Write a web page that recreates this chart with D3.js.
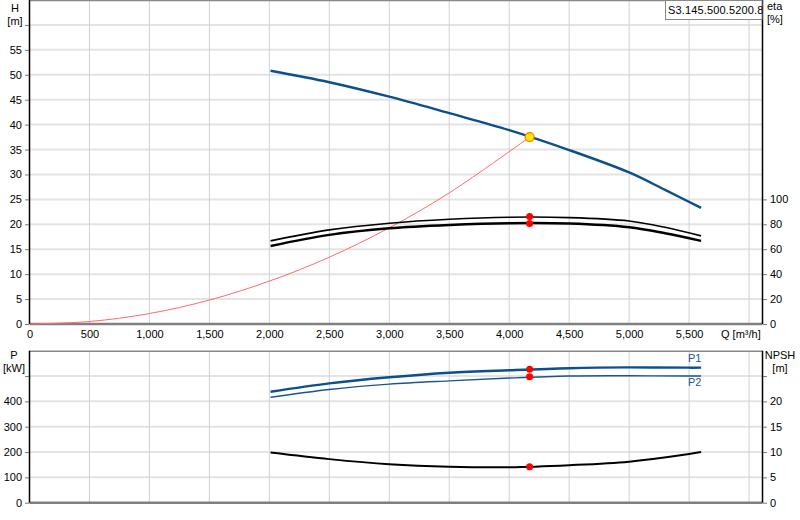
<!DOCTYPE html>
<html>
<head>
<meta charset="utf-8">
<script src="https://cdn.jsdelivr.net/npm/d3@7"></script>
<style>
	body { margin: 0; background: #fff; }
	text { font-family: "Liberation Sans", Arial, sans-serif; font-size: 11px; fill: #000; }
	.tick line { stroke: #777; }
	.domain { display: none; }
</style>
</head>
<body>
<div id="chart"></div>
<script>
// ---- data ----
const qTicks = [0, 500, 1000, 1500, 2000, 2500, 3000, 3500, 4000, 4500, 5000, 5500];
const qGrid = [500, 1000, 1500, 2000, 2500, 3000, 3500, 4000, 4500, 5000, 5500, 6000];
const hTicks = [0, 5, 10, 15, 20, 25, 30, 35, 40, 45, 50, 55, 60];
const etaTicks = [0, 20, 40, 60, 80, 100];
const pTicks = [0, 100, 200, 300, 400, 500];
const npshTicks = [0, 5, 10, 15, 20, 25];

const qCurve = [2010, 2500, 3000, 3500, 4000, 4500, 5000, 5300, 5600];
const headVals = [50.8, 48.5, 45.6, 42.3, 38.9, 34.9, 30.4, 26.9, 23.3];
const etaPump = [66.7, 75.5, 80.9, 84.1, 85.7, 85.4, 82.7, 77.6, 70.7];
const etaTotal = [62.6, 71.5, 76.8, 79.5, 80.9, 80.6, 77.6, 72.8, 66.7];

const qSystem = [0, 500, 1000, 1500, 2000, 2500, 3000, 3500, 4170];
const hSystem = [0, 0.5, 2.1, 4.8, 8.6, 13.4, 19.3, 26.3, 37.5];

const qPower = [2010, 2500, 3000, 3500, 4000, 4500, 5000, 5500, 5600];
const p1Vals = [438, 471, 495, 513, 523, 531, 534, 533, 533];
const p2Vals = [416, 447, 468, 481, 492, 500, 501, 500, 500];
const npshVals = [9.9, 8.6, 7.6, 7.1, 7.0, 7.4, 8.1, 9.6, 10.0];

const dutyQ = 4170;
const dutyH = 37.5;
const dutyEta = [86.2, 80.6];
const dutyP = [527, 497];
const dutyNpsh = 7.1;

const curveName = "S3.145.500.5200.8.";

// ---- layout ----
const W = 800, H = 520;
const left = 29.5, right = 762.5;
const top1 = 0, bot1 = 324;
const top2 = 350.7, bot2 = 502.7;

const svg = d3.select("#chart").append("svg")
	.attr("width", W)
	.attr("height", H);

const x = d3.scaleLinear().domain([0, 6112]).range([left, right]);
const yH = d3.scaleLinear().domain([0, 65]).range([bot1, top1]);
const yEta = d3.scaleLinear().domain([0, 260]).range([bot1, top1]);
const yP = d3.scaleLinear().domain([0, 600]).range([bot2, top2]);
const yN = d3.scaleLinear().domain([0, 30]).range([bot2, top2]);

function panel(yScale, ticks, yTop, yBot) {
	const g = svg.append("g");
	// horizontal grid
	g.selectAll(".hg")
		.data(ticks.filter((d) => d > 0))
		.enter()
		.append("line")
		.attr("x1", left).attr("x2", right)
		.attr("y1", (d) => yScale(d)).attr("y2", (d) => yScale(d))
		.style("stroke", "#e4e4e4")
		.style("stroke-width", 2);
	// vertical grid
	g.selectAll(".vg")
		.data(qGrid)
		.enter()
		.append("line")
		.attr("x1", (d) => x(d)).attr("x2", (d) => x(d))
		.attr("y1", yTop).attr("y2", yBot)
		.style("stroke", "#d2d2d2")
		.style("stroke-width", 1);
	// frame
	g.append("line").attr("x1", left).attr("x2", right).attr("y1", yTop + 0.5).attr("y2", yTop + 0.5)
		.style("stroke", "#888").style("stroke-width", 1.5);
	g.append("line").attr("x1", left).attr("x2", right).attr("y1", yBot).attr("y2", yBot)
		.style("stroke", "#808080").style("stroke-width", 2.5);
	g.append("line").attr("x1", left).attr("x2", left).attr("y1", yTop).attr("y2", yBot)
		.style("stroke", "#000").style("stroke-width", 1.5);
	g.append("line").attr("x1", right).attr("x2", right).attr("y1", yTop).attr("y2", yBot)
		.style("stroke", "#000").style("stroke-width", 1.5);
}

function sideAxis(scale, ticks, side, hideTop) {
	const last = ticks[ticks.length - 1];
	const ax = (side === "left" ? d3.axisLeft(scale) : d3.axisRight(scale))
		.tickValues(ticks)
		.tickSize(4)
		.tickPadding(3)
		.tickFormat((d) => (hideTop && d === last ? "" : d));
	svg.append("g")
		.attr("transform", `translate(${side === "left" ? left - 0.5 : right + 0.5},0)`)
		.call(ax);
}

function unitLabel(xPos, yPos, lines, anchor) {
	lines.forEach((t, i) => {
		svg.append("text")
			.attr("x", xPos)
			.attr("y", yPos + i * 13)
			.attr("text-anchor", anchor)
			.text(t);
	});
}

panel(yH, hTicks, top1, bot1);
panel(yP, pTicks, top2, bot2);

sideAxis(yH, hTicks, "left", true);
sideAxis(yEta, etaTicks, "right", false);
sideAxis(yP, pTicks, "left", true);
sideAxis(yN, npshTicks, "right", true);

// x axis labels (top panel only)
svg.append("g")
	.attr("transform", `translate(0,${bot1})`)
	.call(d3.axisBottom(x).tickValues(qTicks).tickSize(0).tickPadding(6).tickFormat(d3.format(",")));

svg.append("text").attr("x", 721).attr("y", 338).text("Q [m³/h]");

unitLabel(15, 12, ["H", "[m]"], "middle");
unitLabel(767, 10, ["eta", "[%]"], "start");
unitLabel(14, 359, ["P", "[kW]"], "middle");
unitLabel(780, 359, ["NPSH", "[m]"], "middle");

// curve name box
const clip = svg.append("defs").append("clipPath").attr("id", "boxclip");
clip.append("rect").attr("x", 665).attr("y", 0).attr("width", right - 665).attr("height", 20);
svg.append("rect")
	.attr("x", 665.5).attr("y", 0.5).attr("width", right - 666).attr("height", 19)
	.style("fill", "#fff").style("stroke", "#888");
svg.append("text")
	.attr("x", 668).attr("y", 14)
	.attr("clip-path", "url(#boxclip)")
	.style("letter-spacing", "0.15px")
	.text(curveName);

// ---- curves ----
function drawLine(qs, vs, yScale, color, width) {
	const line = d3.line()
		.x((d) => x(d[0]))
		.y((d) => yScale(d[1]))
		.curve(d3.curveCatmullRom.alpha(0.5));
	svg.append("path")
		.datum(d3.zip(qs, vs))
		.attr("d", line)
		.style("fill", "none")
		.style("stroke", color)
		.style("stroke-width", width);
}

drawLine(qSystem, hSystem, yH, "#ff6a6a", 1);
drawLine(qCurve, etaPump, yEta, "#000", 1.6);
drawLine(qCurve, etaTotal, yEta, "#000", 2.4);
drawLine(qCurve, headVals, yH, "#0b4f8c", 2.4);

drawLine(qPower, p1Vals, yP, "#0b4f8c", 2.4);
drawLine(qPower, p2Vals, yP, "#1d5590", 1.4);
drawLine(qPower, npshVals, yN, "#000", 2);

svg.append("text").attr("x", 688).attr("y", 362).style("fill", "#1d5590").text("P1");
svg.append("text").attr("x", 688).attr("y", 386).style("fill", "#1d5590").text("P2");

// ---- duty point markers ----
function dot(q, v, yScale) {
	svg.append("circle")
		.attr("cx", x(q)).attr("cy", yScale(v)).attr("r", 3.5)
		.style("fill", "#ff0000");
}
dutyEta.forEach((v) => dot(dutyQ, v, yEta));
dutyP.forEach((v) => dot(dutyQ, v, yP));
dot(dutyQ, dutyNpsh, yN);

svg.append("circle")
	.attr("cx", x(dutyQ)).attr("cy", yH(dutyH)).attr("r", 4.5)
	.style("fill", "#ffe600")
	.style("stroke", "#f08000")
	.style("stroke-width", 1.2);
</script>
</body>
</html>
